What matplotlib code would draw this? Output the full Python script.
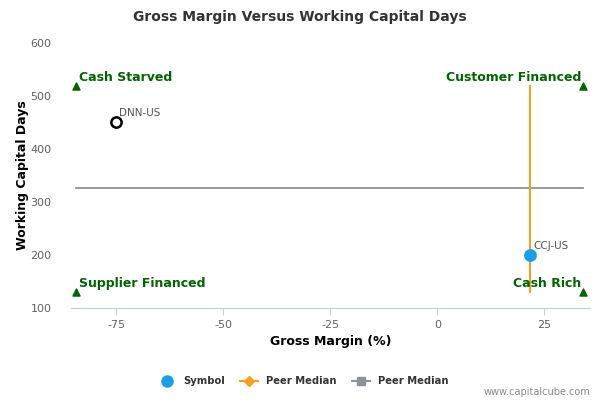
import matplotlib
matplotlib.use("Agg")
import matplotlib.pyplot as plt
from matplotlib.lines import Line2D

# Data
symbols = ["DNN-US", "CCJ-US"]
gross_margin = [-75.0, 21.7]
wc_days = [451.0, 200.0]
symbol_face = ["white", "#1A9EE8"]
symbol_edge = ["black", "#1A9EE8"]

peer_median_gm = 21.7
peer_median_wcd = 326.0

quadrant_labels = ["Cash Starved", "Customer Financed", "Supplier Financed", "Cash Rich"]
quadrant_x = [-84.4, 34.1, -84.4, 34.1]
quadrant_y = [519.0, 519.0, 130.0, 130.0]

x_ticks = [-75, -50, -25, 0, 25]
y_ticks = [100, 200, 300, 400, 500, 600]

fig = plt.figure(figsize=(6, 4), dpi=100)
ax = fig.add_axes([71/600, 1-308/400, (590-71)/600, (308-43)/400])
ax.set_xlim(-85.6, 35.7)
ax.set_ylim(100, 600)

# peer median lines
ax.plot([quadrant_x[0], quadrant_x[1]], [peer_median_wcd, peer_median_wcd], color="#8E919E", lw=1.3, zorder=2)
ax.plot([peer_median_gm, peer_median_gm], [quadrant_y[2], quadrant_y[0]], color="#F7A01A", lw=1.5, zorder=2)

# quadrant markers and labels
green = "#006400"
ax.scatter(quadrant_x, quadrant_y, marker="^", s=26, color=green, zorder=3, clip_on=False)
for lbl, x, y in zip(quadrant_labels, quadrant_x, quadrant_y):
    if x < 0:
        ax.annotate(lbl, (x, y), xytext=(2, 1.5), textcoords="offset points",
                    ha="left", va="bottom", color=green, fontweight="bold", fontsize=9)
    else:
        ax.annotate(lbl, (x, y), xytext=(-1.5, 1.5), textcoords="offset points",
                    ha="right", va="bottom", color=green, fontweight="bold", fontsize=9)

# symbols
for s, x, y, fc, ec in zip(symbols, gross_margin, wc_days, symbol_face, symbol_edge):
    ax.scatter([x], [y], s=55, facecolor=fc, edgecolor=ec, linewidth=1.8, zorder=4)
    ax.annotate(s, (x, y), xytext=(2, 3), textcoords="offset points",
                ha="left", va="bottom", color="#555555", fontsize=7.5)

ax.set_xticks(x_ticks)
ax.set_xticklabels([str(v) for v in x_ticks])
ax.set_yticks(y_ticks)
ax.set_yticklabels([str(v) for v in y_ticks])
for sp in ["top", "right", "left"]:
    ax.spines[sp].set_visible(False)
ax.spines["bottom"].set_color("#C0D0E0")
ax.tick_params(axis="x", colors="#C0D0E0", labelcolor="#606060", labelsize=8, length=5, direction="out")
ax.tick_params(axis="y", length=0, labelcolor="#606060", labelsize=8, pad=14)

ax.set_xlabel("Gross Margin (%)", fontweight="bold", fontsize=9, color="black", labelpad=4)
ax.set_ylabel("Working Capital Days", fontweight="bold", fontsize=9, color="black", labelpad=1)

fig.text(0.5, 1-17/400, "Gross Margin Versus Working Capital Days", ha="center", va="center",
         fontsize=10, fontweight="bold", color="#333333")

handles = [
    Line2D([], [], marker="o", color="#1A9EE8", linestyle="none", markersize=8),
    Line2D([], [], marker="D", color="#F7A01A", linestyle="-", markersize=5, lw=1.5),
    Line2D([], [], marker="s", color="#8E919E", linestyle="-", markersize=6, lw=1.5),
]
fig.legend(handles, ["Symbol", "Peer Median", "Peer Median"], loc="center",
           bbox_to_anchor=(0.505, 1-381/400), ncol=3, frameon=False,
           prop={"weight": "bold", "size": 7.2}, handlelength=1.8, handletextpad=0.8,
           columnspacing=1.5)
for t in fig.legends[0].get_texts():
    t.set_color("#333333")

fig.text(590/600, 1-392/400, "www.capitalcube.com", ha="right", va="center", fontsize=7, color="#888888")

fig.savefig("out.png", dpi=100)
